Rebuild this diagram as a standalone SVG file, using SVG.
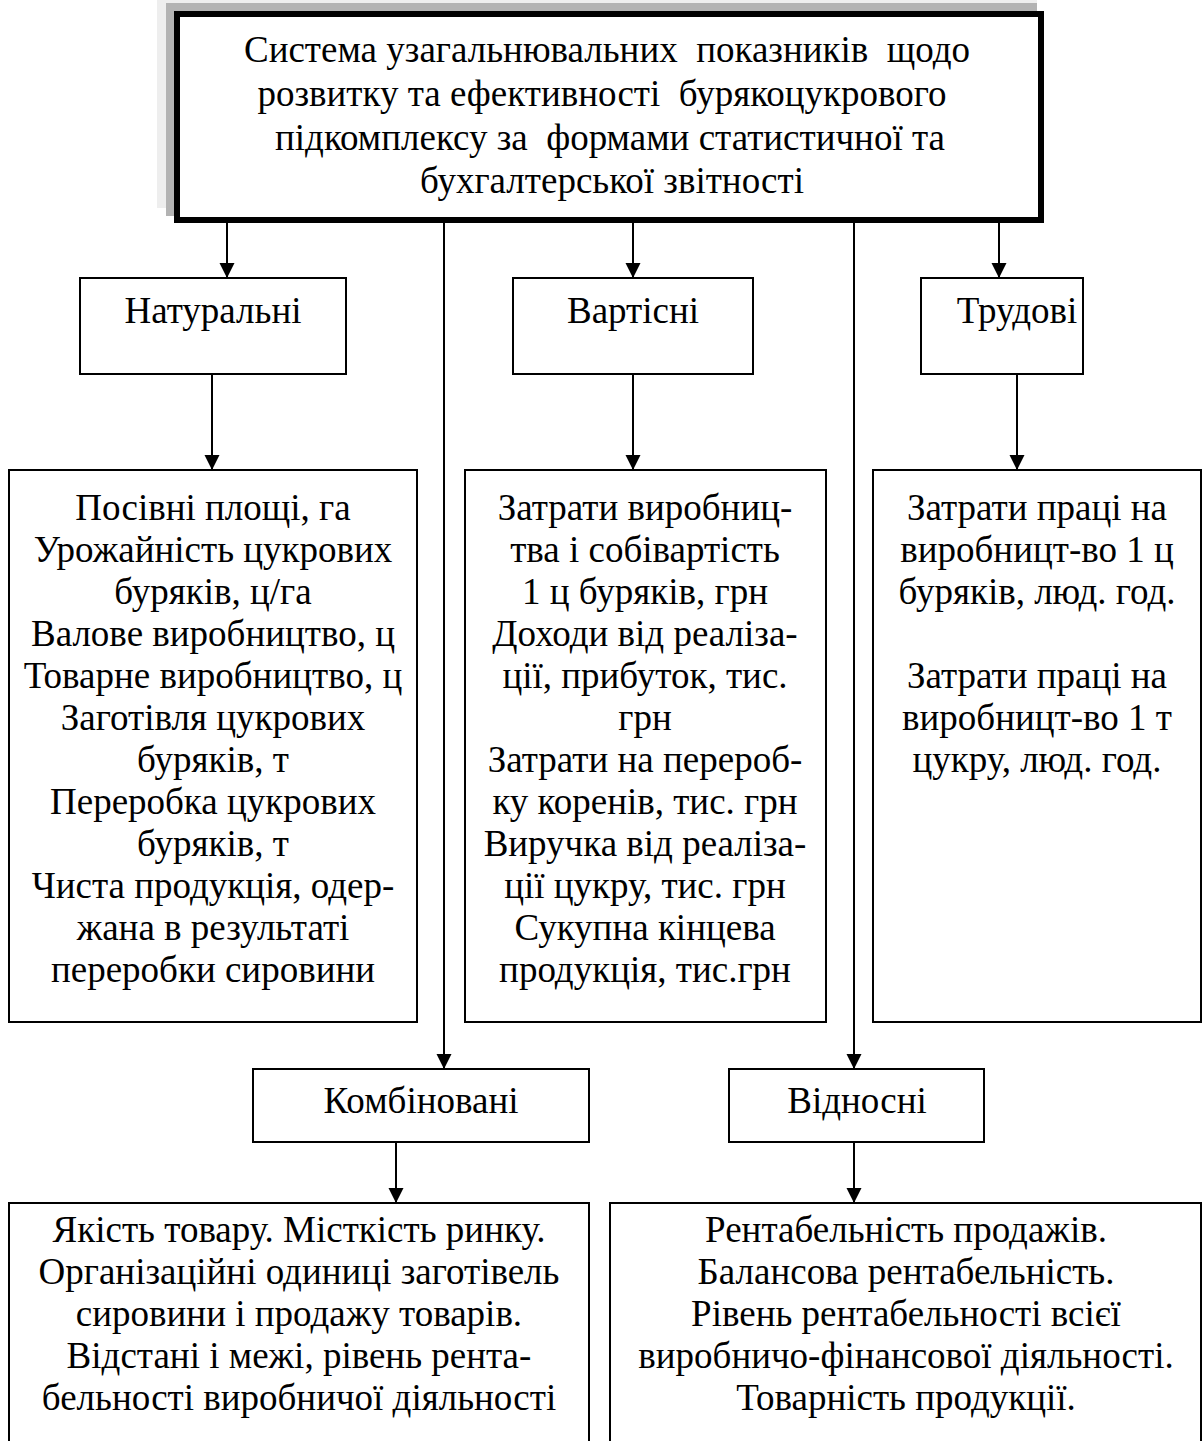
<svg xmlns="http://www.w3.org/2000/svg" width="1202" height="1441" viewBox="0 0 1202 1441">
<style>
.t{font-family:"Liberation Serif","Times New Roman",serif;font-size:37px;fill:#000;text-anchor:middle}
.box{fill:#fff;stroke:#000;stroke-width:2}
.con{stroke:#000;stroke-width:2;fill:none}
</style>
<defs>
<marker id="arr" markerUnits="userSpaceOnUse" markerWidth="16" markerHeight="16" refX="15" refY="7.5" orient="auto">
<path d="M0,0 L15,7.5 L0,15 z" fill="#000"/>
</marker>
</defs>
<rect width="1202" height="1441" fill="#fff"/>
<g id="top">
<rect x="157" y="0" width="880" height="208" fill="#eeeeee"/>
<rect x="166" y="3" width="871" height="213" fill="#b3b3b3"/>
<rect x="177" y="14" width="864" height="206" fill="#fff" stroke="#000" stroke-width="6"/>
<text class="t" xml:space="preserve"><tspan x="607" y="62">Система узагальнювальних  показників  щодо</tspan><tspan x="602" y="106">розвитку та ефективності  бурякоцукрового</tspan><tspan x="610" y="150">підкомплексу за  формами статистичної та</tspan><tspan x="612" y="193">бухгалтерської звітності</tspan></text>
</g>
<g id="connectors">
<line class="con" x1="227" y1="223" x2="227" y2="278" marker-end="url(#arr)"/>
<line class="con" x1="444" y1="223" x2="444" y2="1069" marker-end="url(#arr)"/>
<line class="con" x1="633" y1="223" x2="633" y2="278" marker-end="url(#arr)"/>
<line class="con" x1="854" y1="223" x2="854" y2="1069" marker-end="url(#arr)"/>
<line class="con" x1="999" y1="223" x2="999" y2="278" marker-end="url(#arr)"/>
<line class="con" x1="212" y1="374" x2="212" y2="470" marker-end="url(#arr)"/>
<line class="con" x1="633" y1="374" x2="633" y2="470" marker-end="url(#arr)"/>
<line class="con" x1="1017" y1="374" x2="1017" y2="470" marker-end="url(#arr)"/>
<line class="con" x1="396" y1="1142" x2="396" y2="1203" marker-end="url(#arr)"/>
<line class="con" x1="854" y1="1142" x2="854" y2="1203" marker-end="url(#arr)"/>
</g>
<g id="naturalni">
<rect class="box" x="80" y="278" width="266" height="96"/>
<text class="t" x="213" y="323">Натуральні</text>
</g>
<g id="vartisni">
<rect class="box" x="513" y="278" width="240" height="96"/>
<text class="t" x="633" y="323">Вартісні</text>
</g>
<g id="trudovi">
<rect class="box" x="921" y="278" width="162" height="96"/>
<text class="t" x="1017" y="323">Трудові</text>
</g>
<g id="naturalni-list">
<rect class="box" x="9" y="470" width="408" height="552"/>
<text class="t"><tspan x="213" y="520">Посівні площі, га</tspan><tspan x="213" y="562">Урожайність цукрових</tspan><tspan x="213" y="604">буряків, ц/га</tspan><tspan x="213" y="646">Валове виробництво, ц</tspan><tspan x="213" y="688">Товарне виробництво, ц</tspan><tspan x="213" y="730">Заготівля цукрових</tspan><tspan x="213" y="772">буряків, т</tspan><tspan x="213" y="814">Переробка цукрових</tspan><tspan x="213" y="856">буряків, т</tspan><tspan x="213" y="898">Чиста продукція, одер-</tspan><tspan x="213" y="940">жана в результаті</tspan><tspan x="213" y="982">переробки сировини</tspan></text>
</g>
<g id="vartisni-list">
<rect class="box" x="465" y="470" width="361" height="552"/>
<text class="t"><tspan x="645" y="520">Затрати виробниц-</tspan><tspan x="645" y="562">тва і собівартість</tspan><tspan x="645" y="604">1 ц буряків, грн</tspan><tspan x="645" y="646">Доходи від реаліза-</tspan><tspan x="645" y="688">ції, прибуток, тис.</tspan><tspan x="645" y="730">грн</tspan><tspan x="645" y="772">Затрати на перероб-</tspan><tspan x="645" y="814">ку коренів, тис. грн</tspan><tspan x="645" y="856">Виручка від реаліза-</tspan><tspan x="645" y="898">ції цукру, тис. грн</tspan><tspan x="645" y="940">Сукупна кінцева</tspan><tspan x="645" y="982">продукція, тис.грн</tspan></text>
</g>
<g id="trudovi-list">
<rect class="box" x="873" y="470" width="328" height="552"/>
<text class="t"><tspan x="1037" y="520">Затрати праці на</tspan><tspan x="1037" y="562">виробницт-во 1 ц</tspan><tspan x="1037" y="604">буряків, люд. год.</tspan><tspan x="1037" y="688">Затрати праці на</tspan><tspan x="1037" y="730">виробницт-во 1 т</tspan><tspan x="1037" y="772">цукру, люд. год.</tspan></text>
</g>
<g id="kombinovani">
<rect class="box" x="253" y="1069" width="336" height="73"/>
<text class="t" x="421" y="1113">Комбіновані</text>
</g>
<g id="vidnosni">
<rect class="box" x="729" y="1069" width="255" height="73"/>
<text class="t" x="857" y="1113">Відносні</text>
</g>
<g id="kombinovani-list">
<rect class="box" x="9" y="1203" width="580" height="260"/>
<text class="t"><tspan x="299" y="1242">Якість товару. Місткість ринку.</tspan><tspan x="299" y="1284">Організаційні одиниці заготівель</tspan><tspan x="299" y="1326">сировини і продажу товарів.</tspan><tspan x="299" y="1368">Відстані і межі, рівень рента-</tspan><tspan x="299" y="1410">бельності виробничої діяльності</tspan></text>
</g>
<g id="vidnosni-list">
<rect class="box" x="610" y="1203" width="591" height="260"/>
<text class="t"><tspan x="906" y="1242">Рентабельність продажів.</tspan><tspan x="906" y="1284">Балансова рентабельність.</tspan><tspan x="906" y="1326">Рівень рентабельності всієї</tspan><tspan x="906" y="1368">виробничо-фінансової діяльності.</tspan><tspan x="906" y="1410">Товарність продукції.</tspan></text>
</g>
</svg>
